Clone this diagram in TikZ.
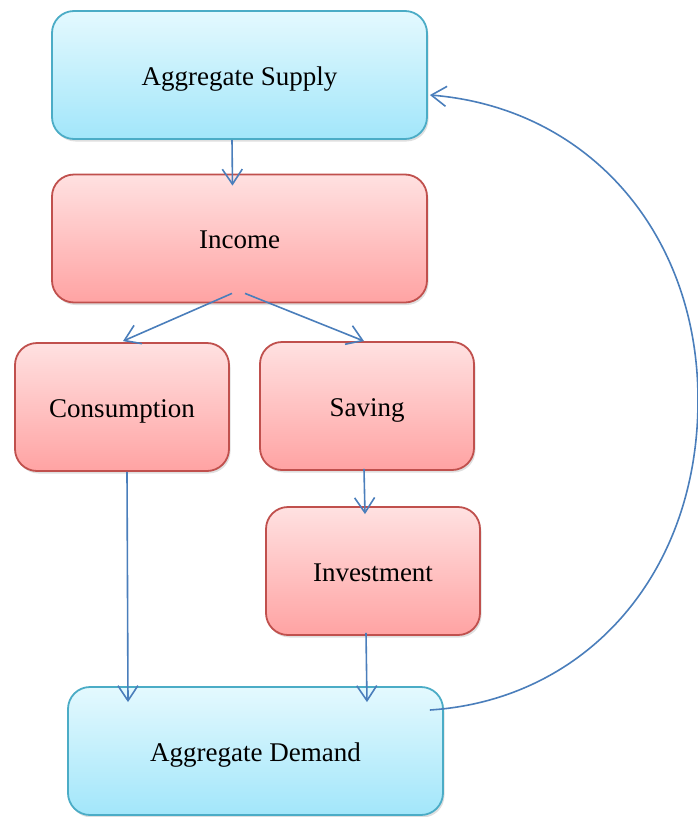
\documentclass[tikz,border=0pt]{standalone}
\usepackage{fontspec}
\setmainfont{Liberation Serif}
\usetikzlibrary{arrows.meta,shadows}
\definecolor{cyanTop}{HTML}{E4F9FE}
\definecolor{cyanBot}{HTML}{A2E6FA}
\definecolor{cyanLine}{HTML}{4BACC6}
\definecolor{pinkTop}{HTML}{FFE1E1}
\definecolor{pinkBot}{HTML}{FFA3A3}
\definecolor{pinkLine}{HTML}{C0504D}
\definecolor{arrowBlue}{HTML}{4A7EBB}
\tikzset{
  boxbase/.style={rectangle, rounded corners=22pt, line width=1.8pt,
    minimum height=128pt, font=\fontsize{27}{30}\selectfont,
    text height=20pt, text depth=0pt,
    drop shadow={shadow xshift=1.5pt, shadow yshift=-2.5pt, opacity=0.25}},
  cyanbox/.style={boxbase, draw=cyanLine, top color=cyanTop, bottom color=cyanBot},
  pinkbox/.style={boxbase, draw=pinkLine, top color=pinkTop, bottom color=pinkBot},
  wide/.style={minimum width=375pt},
  narrow/.style={minimum width=214pt},
  flow/.style={draw=arrowBlue, line width=1.6pt, -{Straight Barb[length=15pt,width=20pt,line width=1.6pt]}}
}
\begin{document}
\begin{tikzpicture}[x=1pt,y=-1pt]
\useasboundingbox (0,0) rectangle (697,817);
\node[cyanbox, wide] (as) at (239.5,75) {Aggregate Supply};
\node[pinkbox, wide] (inc) at (239.5,238.5) {Income};
\node[pinkbox, narrow] (con) at (122,407) {Consumption};
\node[pinkbox, narrow] (sav) at (367,406) {Saving};
\node[pinkbox, narrow] (inv) at (373,571) {Investment};
\node[cyanbox, wide] (ad) at (255.5,751) {Aggregate Demand};

\draw[flow] ([xshift=-7.5pt]as.south) -- ([xshift=-7pt,yshift=-12pt]inc.north);
\draw[flow] ([xshift=-7.5pt,yshift=10pt]inc.south) -- ([xshift=1pt,yshift=1pt]con.north);
\draw[flow] ([xshift=5.5pt,yshift=10pt]inc.south) -- ([xshift=-3pt]sav.north);
\draw[flow] ([xshift=-3pt,yshift=2pt]sav.south) -- ([xshift=-8pt,yshift=-8pt]inv.north);
\draw[flow] ([xshift=5pt]con.south) -- ([xshift=-127.5pt,yshift=-16pt]ad.north);
\draw[flow] ([xshift=-7pt,yshift=3pt]inv.south) -- ([xshift=111.5pt,yshift=-16pt]ad.north);
\draw[flow] ([xshift=-14pt,yshift=41pt]ad.east)
   .. controls (585,700) and (698,575) .. (698,400)
   .. controls (698,235) and (590,108) .. ([xshift=2pt,yshift=-20pt]as.east);
\end{tikzpicture}
\end{document}
